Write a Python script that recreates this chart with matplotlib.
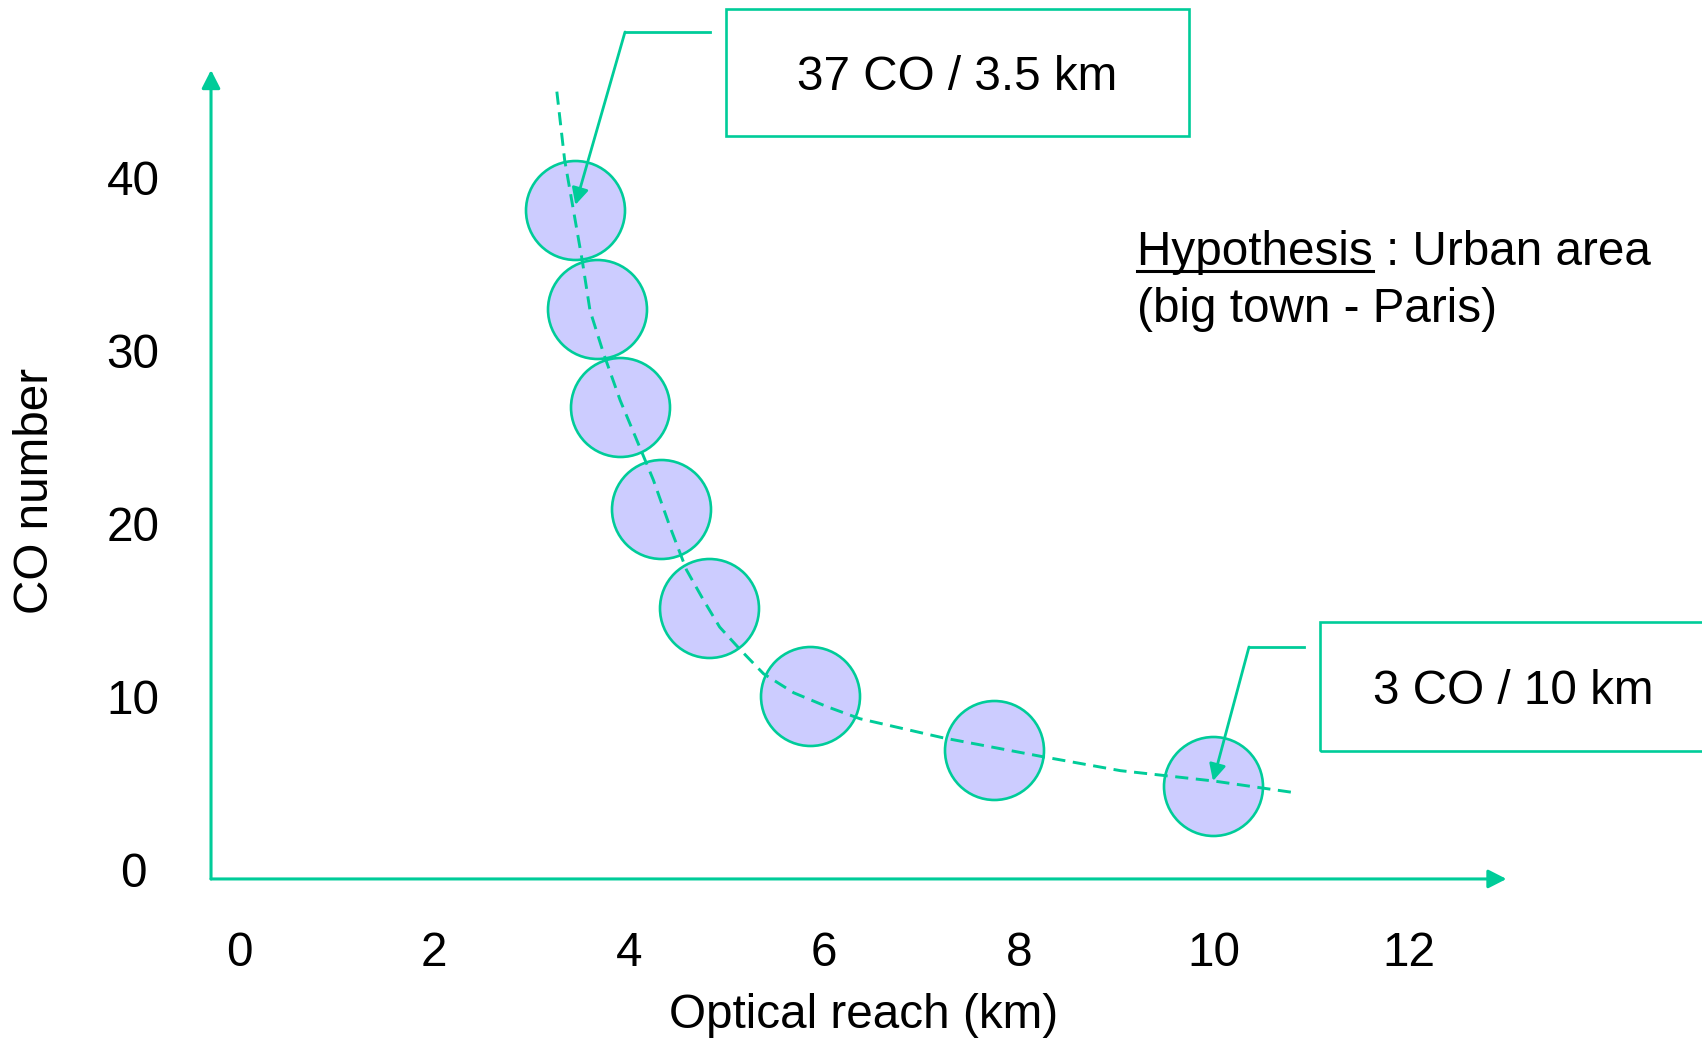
import numpy as np
import matplotlib.pyplot as plt

plt.rcParams['font.family'] = ['Liberation Sans', 'DejaVu Sans']

# data
reach_km = [3.45, 3.67, 3.91, 4.33, 4.82, 5.86, 7.74, 9.99]
co_count = [38.2, 32.5, 26.8, 20.9, 15.2, 10.1, 7.0, 4.9]

trend_x = [3.26, 3.34, 3.43, 3.52, 3.60, 3.74, 3.91, 4.11, 4.25, 4.42, 4.59,
           4.76, 4.93, 5.14, 5.38, 5.69, 6.03, 6.37, 7.22, 8.25, 9.04, 10.0, 10.86]
trend_y = [45.05, 41.1, 38.2, 35.3, 32.4, 29.9, 27.2, 24.5, 22.6, 19.9, 17.4,
           15.7, 14.1, 12.8, 11.4, 10.3, 9.5, 8.8, 7.7, 6.6, 5.8, 5.2, 4.5]

xticks = [0, 2, 4, 6, 8, 10, 12]
yticks = [0, 10, 20, 30, 40]

green = '#00CC99'
fill = '#CCCCFF'
W, H = 1702, 1039

fig = plt.figure(figsize=(W / 100, H / 100), dpi=100)
ax = fig.add_axes([0, 0, 1, 1])
# scale: x_px = 239 + 97.5*x , y_px = 871 - 17.3*y
ax.set_xlim(-239 / 97.5, (W - 239) / 97.5)
ax.set_ylim((871 - H) / 17.3, 871 / 17.3)
ax.axis('off')


def fp(x, y):
    # pixel (from top-left) -> figure fraction
    return (x / W, 1 - y / H)


fs = 34.3

# axes arrows
x0, y0 = -0.287, -0.46
ax.annotate('', xy=(x0, 46.3), xytext=(x0, y0),
            arrowprops=dict(arrowstyle='-|>,head_length=0.55,head_width=0.28',
                            mutation_scale=20, lw=2.2, color=green,
                            shrinkA=0, shrinkB=0))
ax.annotate('', xy=(13.0, y0), xytext=(x0, y0),
            arrowprops=dict(arrowstyle='-|>,head_length=0.55,head_width=0.28',
                            mutation_scale=20, lw=2.2, color=green,
                            shrinkA=0, shrinkB=0))

# tick labels
for t in xticks:
    ax.text(t, (871 - 954) / 17.3, str(t), ha='center', va='center', fontsize=fs)
for t in yticks:
    ax.text((133 - 239) / 97.5, t - 0.2, str(t), ha='center', va='center', fontsize=fs)

fig.text(*fp(864, 1016), 'Optical reach (km)', ha='center', va='center', fontsize=fs)
fig.text(*fp(36, 491), 'CO number', ha='center', va='center', fontsize=fs,
         rotation=90)

# circles and dashed trend
ax.scatter(reach_km, co_count, s=5080, c=fill, edgecolors=green,
           linewidths=1.9, zorder=3)
ax.plot(trend_x, trend_y, color=green, lw=2.1, dashes=(4.5, 2.6), zorder=4)

# callout boxes
for (bx0, by0, bx1, by1, txt, tx, ty) in [(726, 9, 1189, 136, '37 CO / 3.5 km', 957, 77),
                                           (1320, 622, 1712, 751, '3 CO / 10 km', 1513, 692)]:
    rect = plt.Rectangle(fp(bx0, by1), (bx1 - bx0) / W, (by1 - by0) / H,
                         transform=fig.transFigure, fill=False,
                         edgecolor=green, lw=1.9)
    fig.patches.append(rect)
    fig.text(*fp(tx, ty), txt, ha='center', va='center', fontsize=fs)

for (hx0, hx1, hy, idx) in [(710, 625, 32, 0), (1304, 1249, 647, 7)]:
    a, b = fp(hx0, hy)
    c, d = fp(hx1, hy)
    ax.plot([a, c], [b, d], color=green, lw=2.0, transform=fig.transFigure,
            zorder=5)
    ax.annotate('', xy=(reach_km[idx], co_count[idx] + 0.3), xytext=(c, d),
                textcoords='figure fraction',
                arrowprops=dict(arrowstyle='-|>,head_length=0.5,head_width=0.25',
                                mutation_scale=20, lw=2.0, color=green,
                                shrinkA=0, shrinkB=0), zorder=5)

# hypothesis text with underline
fig.text(*fp(1137, 265), 'Hypothesis : Urban area', ha='left', va='baseline',
         fontsize=fs)
fig.text(*fp(1137, 322), '(big town - Paris)', ha='left', va='baseline',
         fontsize=fs)
tmp = fig.text(*fp(1137, 265), 'Hypothesis', ha='left', va='baseline',
               fontsize=fs, alpha=0)
fig.canvas.draw()
bb = tmp.get_window_extent()
ax.plot([bb.x0 / W, bb.x1 / W], [1 - 271 / H, 1 - 271 / H], color='black',
        lw=2.2, transform=fig.transFigure)

fig.savefig('out.png', dpi=100)
